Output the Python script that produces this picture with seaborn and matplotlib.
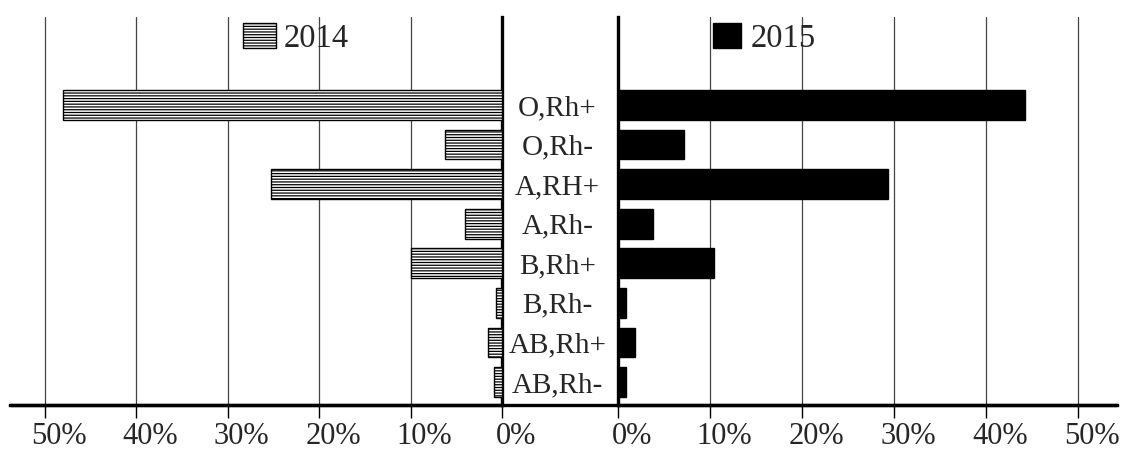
import matplotlib
matplotlib.use("Agg")
import matplotlib.pyplot as plt
from matplotlib.lines import Line2D
from matplotlib.transforms import ScaledTranslation
import numpy as np
import pandas as pd
import seaborn as sb

# Blood group shares (%)
groups = ["O,Rh+", "O,Rh-", "A,RH+", "A,Rh-", "B,Rh+", "B,Rh-", "AB,Rh+", "AB,Rh-"]
share_2014 = [48.0, 6.2, 25.3, 4.0, 10.0, 0.7, 1.5, 0.9]
share_2015 = [44.2, 7.2, 29.3, 3.8, 10.4, 0.9, 1.8, 0.9]
tick_values = [0, 10, 20, 30, 40, 50]
tick_labels = ["0%", "10%", "20%", "30%", "40%", "50%"]

sb.set_style("white")
plt.rcParams["font.family"] = ["Liberation Serif", "DejaVu Serif"]
plt.rcParams["hatch.color"] = "black"
plt.rcParams["hatch.linewidth"] = 0.9

W, H = 1126, 450
fig = plt.figure(figsize=(W / 100, H / 100), dpi=100)

# axes boxes in pixels: left panel 10..502, right panel 618..1117, y 17..405
ax1 = fig.add_axes([10 / W, 45 / H, 492 / W, 388 / H])
ax2 = fig.add_axes([618 / W, 45 / H, 499 / W, 388 / H])

df14 = pd.DataFrame({"group": groups, "share": share_2014})
df15 = pd.DataFrame({"group": groups, "share": share_2015})

sb.barplot(data=df14, x="share", y="group", order=groups, ax=ax1,
           color="white", edgecolor="black", linewidth=1, hatch="------",
           width=0.75, label="2014", zorder=3)
sb.barplot(data=df15, x="share", y="group", order=groups, ax=ax2,
           color="black", edgecolor="black", linewidth=1,
           width=0.75, label="2015", zorder=3)

ax1.set_xlim(53.8, 0)
ax2.set_xlim(0, 54.2)
for ax in (ax1, ax2):
    ax.set_ylim(7.58, -2.22)
    ax.set_xlabel("")
    ax.set_ylabel("")
    ax.set_xticks(tick_values)
    ax.set_xticklabels(tick_labels, fontsize=22)
    ax.tick_params(axis="x", direction="out", length=9, width=1, color="black",
                   pad=3, bottom=True)
    for v in tick_values[1:]:
        ax.axvline(v, color="#444444", lw=0.9, zorder=1)
    ax.spines["top"].set_visible(False)
    ax.spines["bottom"].set_linewidth(2.4)
    ax.spines["bottom"].set_color("black")
    # labels in the picture sit a bit right of their ticks
    for lab in ax.get_xticklabels():
        lab.set_transform(lab.get_transform() + ScaledTranslation(0.14, 0, fig.dpi_scale_trans))

ax1.spines["left"].set_visible(False)
ax1.spines["right"].set_linewidth(2.4)
ax1.spines["right"].set_color("black")
ax2.spines["right"].set_visible(False)
ax2.spines["left"].set_linewidth(2.4)
ax2.spines["left"].set_color("black")

# group names in the middle column, through the left panel's right-hand y ticks
ax1.tick_params(axis="y", left=False, right=False, labelleft=False,
                labelright=True, length=0, pad=40, labelsize=21)
for lab in ax1.get_yticklabels():
    lab.set_horizontalalignment("center")
ax2.tick_params(axis="y", left=False, labelleft=False, length=0)

# bottom line runs across the middle column too
fig.add_artist(Line2D([10 / W, 1117 / W], [45 / H, 45 / H], color="black", lw=2.4))

ax1.legend(loc="upper left", bbox_to_anchor=(243 / W, 1 - 23 / H),
           bbox_transform=fig.transFigure, frameon=False, fontsize=23.5,
           borderpad=0, borderaxespad=0, handlelength=1.0, handleheight=0.8,
           handletextpad=0.25)
ax2.legend(loc="upper left", bbox_to_anchor=(713 / W, 1 - 23 / H),
           bbox_transform=fig.transFigure, frameon=False, fontsize=23.5,
           borderpad=0, borderaxespad=0, handlelength=0.85, handleheight=0.8,
           handletextpad=0.3)

plt.savefig("out.png", dpi=100)
